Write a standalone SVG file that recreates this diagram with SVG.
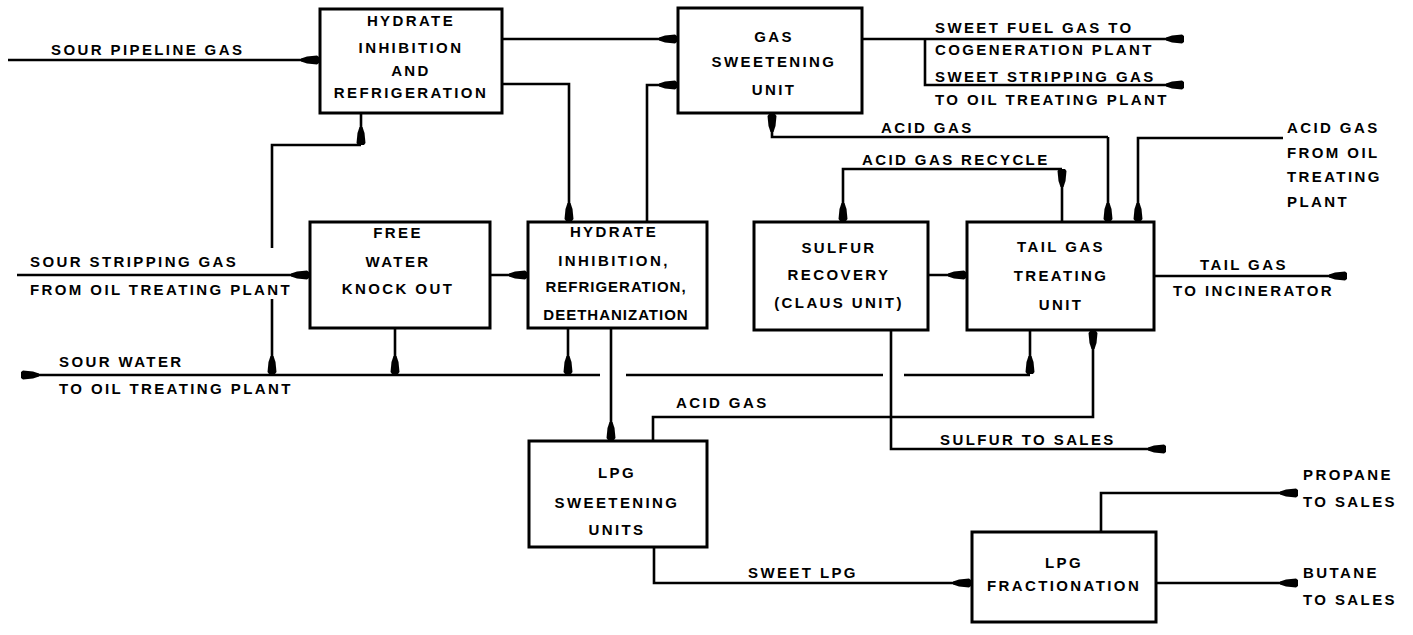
<svg xmlns="http://www.w3.org/2000/svg" width="1413" height="635" viewBox="0 0 1413 635">
<style>
text{font-family:"Liberation Sans",Arial,sans-serif;font-weight:bold;font-size:15px;letter-spacing:2.4px;fill:#000}
.c{text-anchor:middle}
.tight{letter-spacing:1px}
.box{fill:#fff;stroke:#000;stroke-width:3}
#connectors path{fill:none;stroke:#000;stroke-width:2.6}
</style>
<defs>
<marker id="ah" markerUnits="userSpaceOnUse" viewBox="-19 -5 20 10" refX="0" refY="0" markerWidth="20" markerHeight="10" orient="auto">
<path d="M-18,-1.5 L-12,-3.5 L-2,-4.5 L0,-3 L0,3 L-2,4.5 L-12,3.5 L-18,1.5 Z" fill="#000"/>
</marker>
</defs>
<rect width="1413" height="635" fill="#fff"/>
<g id="connectors">
<path d="M8,60 H319" marker-end="url(#ah)"/>
<path d="M502,39 H677" marker-end="url(#ah)"/>
<path d="M502,84 H569 V221" marker-end="url(#ah)"/>
<path d="M647,222 V85 H677" marker-end="url(#ah)"/>
<path d="M361,113 V145" marker-end="url(#ah)"/>
<path d="M361,145 H272 V248"/>
<path d="M272,299 V374" marker-end="url(#ah)"/>
<path d="M17,275 H309" marker-end="url(#ah)"/>
<path d="M490,275 H527" marker-end="url(#ah)"/>
<path d="M395,328 V374" marker-end="url(#ah)"/>
<path d="M568,328 V374" marker-end="url(#ah)"/>
<path d="M600,375 H21" marker-end="url(#ah)"/>
<path d="M626,375 H883"/>
<path d="M904,375 H1030"/>
<path d="M1030,330 V374" marker-end="url(#ah)"/>
<path d="M611,328 V440" marker-end="url(#ah)"/>
<path d="M928,275 H966" marker-end="url(#ah)"/>
<path d="M891,330 V449 H1166" marker-end="url(#ah)"/>
<path d="M1154,276 H1347" marker-end="url(#ah)"/>
<path d="M653,441 V417 H1093 V331" marker-end="url(#ah)"/>
<path d="M862,39 H1184" marker-end="url(#ah)"/>
<path d="M925,39 V85 H1184" marker-end="url(#ah)"/>
<path d="M1108,137 H772 V114" marker-end="url(#ah)"/>
<path d="M1108,137 V221" marker-end="url(#ah)"/>
<path d="M1283,138 H1138 V221" marker-end="url(#ah)"/>
<path d="M1062,222 V169" marker-end="url(#ah)"/>
<path d="M1062,169 H843 V221" marker-end="url(#ah)"/>
<path d="M654,547 V583 H971" marker-end="url(#ah)"/>
<path d="M1101,532 V493 H1298" marker-end="url(#ah)"/>
<path d="M1156,583 H1298" marker-end="url(#ah)"/>
</g>
<g id="node-hydrate-inhibition-refrigeration">
<rect class="box" x="320" y="9" width="182" height="104"/>
<text class="c" x="411" y="26">HYDRATE</text>
<text class="c" x="411" y="53">INHIBITION</text>
<text class="c" x="411" y="76">AND</text>
<text class="c" x="411" y="98">REFRIGERATION</text>
</g>
<g id="node-gas-sweetening">
<rect class="box" x="678" y="8" width="184" height="105"/>
<text class="c" x="774" y="42">GAS</text>
<text class="c" x="774" y="67">SWEETENING</text>
<text class="c" x="774" y="95">UNIT</text>
</g>
<g id="node-free-water">
<rect class="box" x="310" y="222" width="180" height="106"/>
<text class="c" x="398" y="238">FREE</text>
<text class="c" x="398" y="267">WATER</text>
<text class="c" x="398" y="294">KNOCK OUT</text>
</g>
<g id="node-deethanization">
<rect class="box" x="528" y="222" width="179" height="106"/>
<text class="c" x="614" y="237">HYDRATE</text>
<text class="c" x="614" y="266">INHIBITION,</text>
<text class="c tight" x="616" y="292">REFRIGERATION,</text>
<text class="c tight" x="616" y="320">DEETHANIZATION</text>
</g>
<g id="node-sulfur-recovery">
<rect class="box" x="754" y="222" width="174" height="108"/>
<text class="c" x="839" y="253">SULFUR</text>
<text class="c" x="839" y="280">RECOVERY</text>
<text class="c" x="839" y="308">(CLAUS UNIT)</text>
</g>
<g id="node-tail-gas">
<rect class="box" x="967" y="222" width="187" height="108"/>
<text class="c" x="1061" y="252">TAIL GAS</text>
<text class="c" x="1061" y="281">TREATING</text>
<text class="c" x="1061" y="310">UNIT</text>
</g>
<g id="node-lpg-sweetening">
<rect class="box" x="529" y="441" width="178" height="106"/>
<text class="c" x="617" y="478">LPG</text>
<text class="c" x="617" y="508">SWEETENING</text>
<text class="c" x="617" y="535">UNITS</text>
</g>
<g id="node-lpg-fractionation">
<rect class="box" x="972" y="532" width="184" height="90"/>
<text class="c" x="1064" y="568">LPG</text>
<text class="c" x="1064" y="591">FRACTIONATION</text>
</g>
<g id="labels">
<text x="51" y="55">SOUR PIPELINE GAS</text>
<text x="30" y="267">SOUR STRIPPING GAS</text>
<text x="30" y="295">FROM OIL TREATING PLANT</text>
<text x="59" y="367">SOUR WATER</text>
<text x="59" y="394">TO OIL TREATING PLANT</text>
<text x="935" y="33">SWEET FUEL GAS TO</text>
<text x="935" y="55">COGENERATION PLANT</text>
<text x="935" y="82">SWEET STRIPPING GAS</text>
<text x="935" y="105">TO OIL TREATING PLANT</text>
<text x="881" y="133">ACID GAS</text>
<text x="862" y="165">ACID GAS RECYCLE</text>
<text x="1287" y="133">ACID GAS</text>
<text x="1287" y="158">FROM OIL</text>
<text x="1287" y="182">TREATING</text>
<text x="1287" y="207">PLANT</text>
<text x="1200" y="270">TAIL GAS</text>
<text x="1173" y="296">TO INCINERATOR</text>
<text x="676" y="408">ACID GAS</text>
<text x="940" y="445">SULFUR TO SALES</text>
<text x="748" y="578">SWEET LPG</text>
<text x="1303" y="480">PROPANE</text>
<text x="1303" y="507">TO SALES</text>
<text x="1303" y="578">BUTANE</text>
<text x="1303" y="605">TO SALES</text>
</g>
</svg>
